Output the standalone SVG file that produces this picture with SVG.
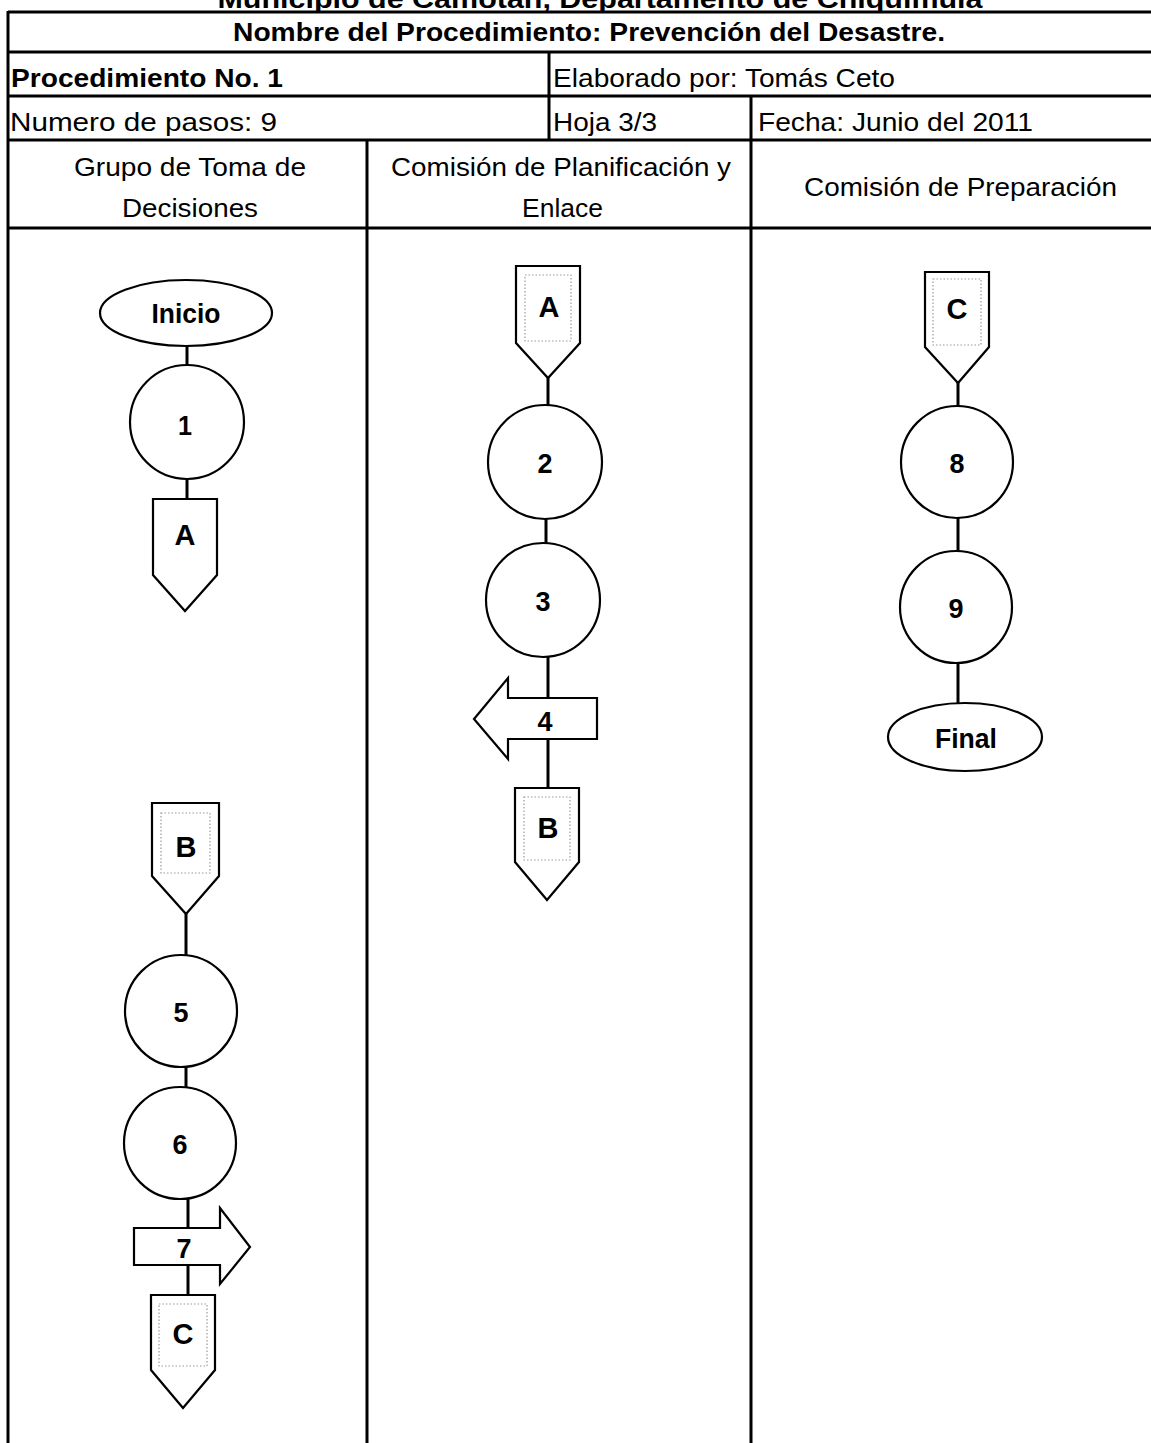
<svg xmlns="http://www.w3.org/2000/svg" width="1151" height="1443" viewBox="0 0 1151 1443">
<style>
  .grid { stroke:#000; stroke-width:3; fill:none; }
  .t { font-family:"Liberation Sans Narrow","Liberation Sans",Arial,sans-serif; font-size:26px; fill:#000; }
  .b { font-weight:bold; }
  .n { font-family:"Liberation Sans Narrow","Liberation Sans",Arial,sans-serif; font-size:28px; font-weight:bold; text-anchor:middle; fill:#000; }
  .l { font-family:"Liberation Sans",Arial,sans-serif; font-size:29px; font-weight:bold; text-anchor:middle; fill:#000; }
  .shape { fill:#fff; stroke:#000; stroke-width:2.2; }
  .dot { fill:none; stroke:#9a9a9a; stroke-width:1.2; stroke-dasharray:1.5 2; }
  .conn { stroke:#000; stroke-width:3; fill:none; }
</style>
<rect x="0" y="0" width="1151" height="1443" fill="#fff"/>

<g id="table">
  <text class="t b" x="600" y="8" text-anchor="middle" textLength="765" lengthAdjust="spacingAndGlyphs">Municipio de Camotán, Departamento de Chiquimula</text>
  <line class="grid" x1="8" y1="12" x2="1151" y2="12"/>
  <line class="grid" x1="8" y1="52" x2="1151" y2="52"/>
  <line class="grid" x1="8" y1="96" x2="1151" y2="96"/>
  <line class="grid" x1="8" y1="140" x2="1151" y2="140"/>
  <line class="grid" x1="8" y1="228" x2="1151" y2="228"/>
  <line class="grid" x1="8" y1="11" x2="8" y2="1443"/>
  <line class="grid" x1="549" y1="52" x2="549" y2="140"/>
  <line class="grid" x1="751" y1="96" x2="751" y2="1443"/>
  <line class="grid" x1="367" y1="140" x2="367" y2="1443"/>

  <text class="t b" x="233" y="41" textLength="712" lengthAdjust="spacingAndGlyphs">Nombre del Procedimiento: Prevención del Desastre.</text>
  <text class="t b" x="11" y="87" textLength="272" lengthAdjust="spacingAndGlyphs">Procedimiento No. 1</text>
  <text class="t" x="553" y="87" textLength="342" lengthAdjust="spacingAndGlyphs">Elaborado por: Tomás Ceto</text>
  <text class="t" x="10" y="131" textLength="267" lengthAdjust="spacingAndGlyphs">Numero de pasos: 9</text>
  <text class="t" x="553" y="131" textLength="104" lengthAdjust="spacingAndGlyphs">Hoja 3/3</text>
  <text class="t" x="758" y="131" textLength="275" lengthAdjust="spacingAndGlyphs">Fecha: Junio del 2011</text>
  <text class="t" x="74" y="176" textLength="232" lengthAdjust="spacingAndGlyphs">Grupo de Toma de</text>
  <text class="t" x="122" y="217" textLength="136" lengthAdjust="spacingAndGlyphs">Decisiones</text>
  <text class="t" x="391" y="176" textLength="340" lengthAdjust="spacingAndGlyphs">Comisión de Planificación y</text>
  <text class="t" x="522" y="217" textLength="81" lengthAdjust="spacingAndGlyphs">Enlace</text>
  <text class="t" x="804" y="196" textLength="313" lengthAdjust="spacingAndGlyphs">Comisión de Preparación</text>
</g>

<g id="connectors">
  <line class="conn" x1="187" y1="345" x2="187" y2="365"/>
  <line class="conn" x1="187" y1="479" x2="187" y2="499"/>
  <line class="conn" x1="186" y1="914" x2="186" y2="956"/>
  <line class="conn" x1="186" y1="1066" x2="186" y2="1088"/>
  <line class="conn" x1="188" y1="1198" x2="188" y2="1228"/>
  <line class="conn" x1="188" y1="1265" x2="188" y2="1295"/>
  <line class="conn" x1="548" y1="377" x2="548" y2="406"/>
  <line class="conn" x1="546" y1="519" x2="546" y2="544"/>
  <line class="conn" x1="548" y1="657" x2="548" y2="698"/>
  <line class="conn" x1="548" y1="739" x2="548" y2="789"/>
  <line class="conn" x1="958" y1="382" x2="958" y2="409"/>
  <line class="conn" x1="958" y1="518" x2="958" y2="551"/>
  <line class="conn" x1="958" y1="662" x2="958" y2="704"/>
</g>

<g id="inicio">
  <ellipse class="shape" cx="186" cy="313" rx="86" ry="33"/>
  <text class="n" x="186" y="323" textLength="69" lengthAdjust="spacingAndGlyphs">Inicio</text>
</g>
<g id="step1">
  <circle class="shape" cx="187" cy="422" r="57"/>
  <text class="n" x="185" y="435" textLength="14" lengthAdjust="spacingAndGlyphs">1</text>
</g>
<g id="offpage-a-out">
  <polygon class="shape" points="153,499 217,499 217,575 185,611 153,575"/>
  <text class="l" x="185" y="545">A</text>
</g>
<g id="offpage-b-in">
  <polygon class="shape" points="152,803 219,803 219,876 186,914 152,876"/>
  <rect class="dot" x="161" y="813" width="49" height="60"/>
  <text class="l" x="186" y="857">B</text>
</g>
<g id="step5">
  <circle class="shape" cx="181" cy="1011" r="56"/>
  <text class="n" x="181" y="1022" textLength="15" lengthAdjust="spacingAndGlyphs">5</text>
</g>
<g id="step6">
  <circle class="shape" cx="180" cy="1143" r="56"/>
  <text class="n" x="180" y="1154" textLength="15" lengthAdjust="spacingAndGlyphs">6</text>
</g>
<g id="step7">
  <polygon class="shape" points="134,1228 220,1228 220,1208 250,1247 220,1284 220,1265 134,1265"/>
  <text class="n" x="184" y="1258" textLength="15" lengthAdjust="spacingAndGlyphs">7</text>
</g>
<g id="offpage-c-out">
  <polygon class="shape" points="151,1295 215,1295 215,1370 183,1408 151,1370"/>
  <rect class="dot" x="159" y="1304" width="48" height="62"/>
  <text class="l" x="183" y="1344">C</text>
</g>

<g id="offpage-a-in">
  <polygon class="shape" points="516,266 580,266 580,343 548,378 516,343"/>
  <rect class="dot" x="525" y="275" width="46" height="66"/>
  <text class="l" x="549" y="317">A</text>
</g>
<g id="step2">
  <circle class="shape" cx="545" cy="462" r="57"/>
  <text class="n" x="545" y="473" textLength="15" lengthAdjust="spacingAndGlyphs">2</text>
</g>
<g id="step3">
  <circle class="shape" cx="543" cy="600" r="57"/>
  <text class="n" x="543" y="611" textLength="15" lengthAdjust="spacingAndGlyphs">3</text>
</g>
<g id="step4">
  <polygon class="shape" points="597,698 508,698 508,678 474,719 508,759 508,739 597,739"/>
  <text class="n" x="545" y="731" textLength="15" lengthAdjust="spacingAndGlyphs">4</text>
</g>
<g id="offpage-b-out">
  <polygon class="shape" points="515,788 579,788 579,862 547,900 515,862"/>
  <rect class="dot" x="524" y="797" width="46" height="63"/>
  <text class="l" x="548" y="838">B</text>
</g>

<g id="offpage-c-in">
  <polygon class="shape" points="925,272 989,272 989,347 958,383 925,347"/>
  <rect class="dot" x="933" y="279" width="48" height="66"/>
  <text class="l" x="957" y="319">C</text>
</g>
<g id="step8">
  <circle class="shape" cx="957" cy="462" r="56"/>
  <text class="n" x="957" y="473" textLength="15" lengthAdjust="spacingAndGlyphs">8</text>
</g>
<g id="step9">
  <circle class="shape" cx="956" cy="607" r="56"/>
  <text class="n" x="956" y="618" textLength="15" lengthAdjust="spacingAndGlyphs">9</text>
</g>
<g id="final">
  <ellipse class="shape" cx="965" cy="737" rx="77" ry="34"/>
  <text class="n" x="966" y="748" textLength="62" lengthAdjust="spacingAndGlyphs">Final</text>
</g>
</svg>
